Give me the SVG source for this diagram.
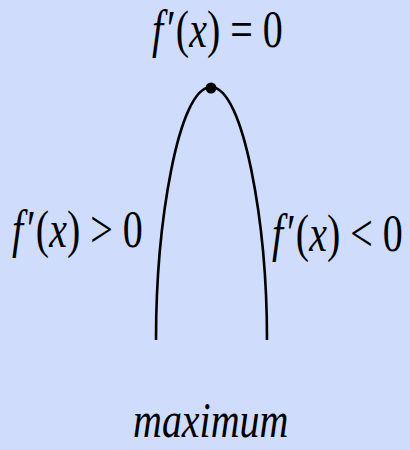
<svg xmlns="http://www.w3.org/2000/svg" width="410" height="450" viewBox="0 0 410 450">
<style>
.t{font-family:"Liberation Serif","Times New Roman",serif;font-size:40px;fill:#000}
.i{font-style:italic}
.c{fill:none;stroke:#000;stroke-width:2.6;stroke-linecap:butt}
</style>
<rect width="410" height="450" fill="#cfdcfb"/>
<g id="connectors">
<path class="c" d="M156,340 C156,225 178,87 211,87 C244,87 267,225 267,340"/>
</g>
<g id="peak"><circle cx="211" cy="88" r="5.5" fill="#000"/></g>
<g id="label-top" transform="translate(152,47) scale(1,1.33)">
<text class="t" x="0" y="0"><tspan class="i">f</tspan><tspan dx="4">′(</tspan><tspan class="i">x</tspan>) = 0</text>
</g>
<g id="label-left" transform="translate(12,247) scale(1,1.33)">
<text class="t" x="0" y="0"><tspan class="i">f</tspan><tspan dx="4">′(</tspan><tspan class="i">x</tspan>) &gt; 0</text>
</g>
<g id="label-right" transform="translate(272,251) scale(1,1.33)">
<text class="t" x="0" y="0"><tspan class="i">f</tspan><tspan dx="4">′(</tspan><tspan class="i">x</tspan>) &lt; 0</text>
</g>
<g id="label-bottom" transform="translate(133,437) scale(1,1.25)">
<text class="t i" x="0" y="0">maximum</text>
</g>
</svg>
